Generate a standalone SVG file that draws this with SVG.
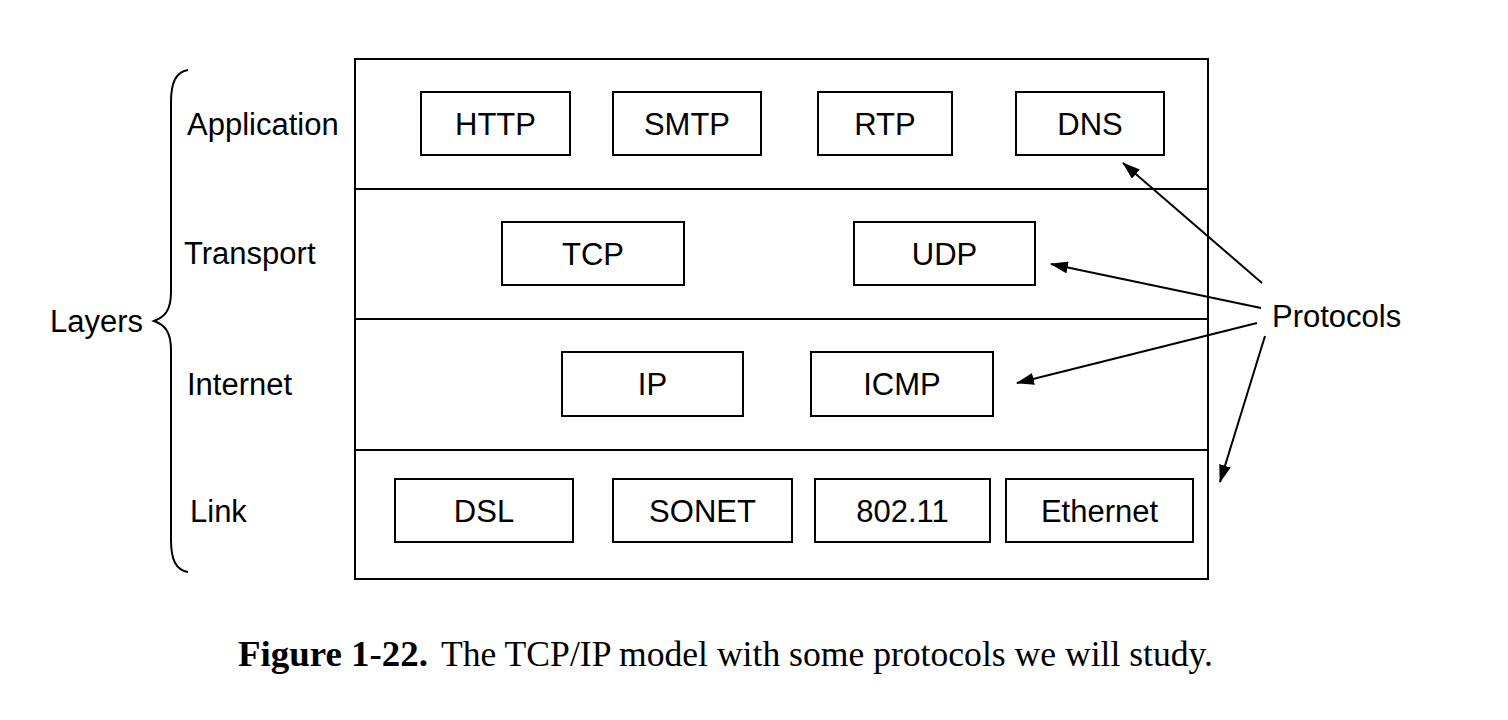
<svg xmlns="http://www.w3.org/2000/svg" width="1508" height="720" viewBox="0 0 1508 720">
<defs>
<style>
.box{fill:#fff;stroke:#000;stroke-width:2}
.lbl{font-family:"Liberation Sans",Arial,sans-serif;font-size:31px;fill:#000}
.c{text-anchor:middle}
.line{stroke:#000;stroke-width:2;fill:none}
.arr{stroke:#000;stroke-width:2;fill:none;marker-end:url(#ah)}
.cap{font-family:"Liberation Serif","Times New Roman",serif;font-size:35px;fill:#000}
</style>
<marker id="ah" viewBox="0 0 18 12" refX="17" refY="6" markerWidth="18" markerHeight="12" markerUnits="userSpaceOnUse" orient="auto">
<path d="M0,0 L18,6 L0,12 z" fill="#000"/>
</marker>
</defs>
<rect width="1508" height="720" fill="#fff"/>
<g id="stack">
<rect x="355" y="59" width="853" height="520" class="box"/>
<line x1="355" y1="189" x2="1208" y2="189" class="line"/>
<line x1="355" y1="319" x2="1208" y2="319" class="line"/>
<line x1="355" y1="450" x2="1208" y2="450" class="line"/>
</g>
<g id="layer-labels">
<text x="187" y="135" class="lbl">Application</text>
<text x="184" y="264" class="lbl">Transport</text>
<text x="187" y="395" class="lbl">Internet</text>
<text x="190" y="522" class="lbl">Link</text>
</g>
<g id="layers">
<text x="50" y="332" class="lbl">Layers</text>
<path d="M188,70 C176,72 171,82 171,102 L171,292 C171,310 165,317 154,321 C165,325 171,332 171,350 L171,540 C171,560 176,570 188,572" class="line"/>
</g>
<g id="http"><rect x="421" y="92" width="149" height="63" class="box"/><text x="495.5" y="135" class="lbl c">HTTP</text></g>
<g id="smtp"><rect x="613" y="92" width="148" height="63" class="box"/><text x="687" y="135" class="lbl c">SMTP</text></g>
<g id="rtp"><rect x="818" y="92" width="134" height="63" class="box"/><text x="885" y="135" class="lbl c">RTP</text></g>
<g id="dns"><rect x="1016" y="92" width="148" height="63" class="box"/><text x="1090" y="135" class="lbl c">DNS</text></g>
<g id="tcp"><rect x="502" y="222" width="182" height="63" class="box"/><text x="593" y="265" class="lbl c">TCP</text></g>
<g id="udp"><rect x="854" y="222" width="181" height="63" class="box"/><text x="944.5" y="265" class="lbl c">UDP</text></g>
<g id="ip"><rect x="562" y="352" width="181" height="64" class="box"/><text x="652.5" y="395" class="lbl c">IP</text></g>
<g id="icmp"><rect x="811" y="352" width="182" height="64" class="box"/><text x="902" y="395" class="lbl c">ICMP</text></g>
<g id="dsl"><rect x="395" y="479" width="178" height="63" class="box"/><text x="484" y="522" class="lbl c">DSL</text></g>
<g id="sonet"><rect x="613" y="479" width="179" height="63" class="box"/><text x="702.5" y="522" class="lbl c">SONET</text></g>
<g id="wifi"><rect x="815" y="479" width="175" height="63" class="box"/><text x="902.5" y="522" class="lbl c">802.11</text></g>
<g id="ethernet"><rect x="1006" y="479" width="187" height="63" class="box"/><text x="1099.5" y="522" class="lbl c">Ethernet</text></g>
<g id="protocols"><text x="1272" y="327" class="lbl">Protocols</text></g>
<g id="connectors">
<line x1="1262" y1="283" x2="1123" y2="163" class="arr"/>
<line x1="1261" y1="308" x2="1051" y2="264" class="arr"/>
<line x1="1257" y1="323" x2="1017" y2="383" class="arr"/>
<line x1="1265" y1="336" x2="1220" y2="482" class="arr"/>
</g>
<g id="caption">
<text y="666" class="cap"><tspan x="238" font-weight="bold" textLength="190" lengthAdjust="spacingAndGlyphs">Figure 1-22.</tspan><tspan x="441" textLength="772" lengthAdjust="spacingAndGlyphs">The TCP/IP model with some protocols we will study.</tspan></text>
</g>
</svg>
